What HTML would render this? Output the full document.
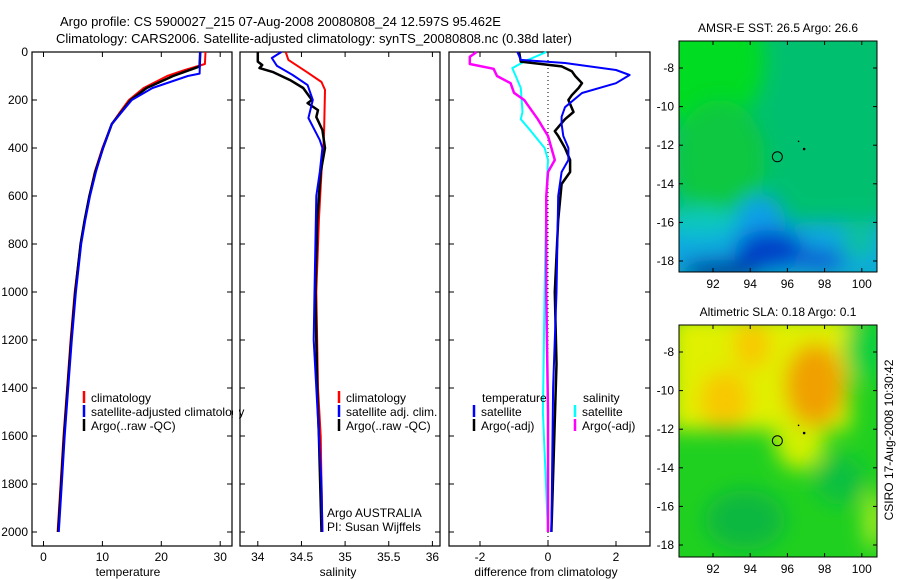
<!DOCTYPE html>
<html><head><meta charset="utf-8">
<style>
body{margin:0;background:#fff;}
svg{display:block;font-family:"Liberation Sans",sans-serif;}
</style></head>
<body>
<svg id="fig" width="900" height="580" viewBox="0 0 900 580">
<defs>
<filter id="blur1" x="-20%" y="-20%" width="140%" height="140%"><feGaussianBlur stdDeviation="10"/></filter>
<clipPath id="cm1"><rect x="679" y="41" width="198" height="231"/></clipPath>
<clipPath id="cm2"><rect x="679" y="325" width="198" height="232"/></clipPath>
</defs>
<text x="60" y="26" font-size="13">Argo profile: CS 5900027_215 07-Aug-2008 20080808_24 12.597S 95.462E</text>
<text x="56" y="43" font-size="13">Climatology: CARS2006. Satellite-adjusted climatology: synTS_20080808.nc (0.38d later)</text>
<g id="panels"></g>
<g id="maps"></g>
<text transform="translate(893,440) rotate(-90)" text-anchor="middle" font-size="12">CSIRO 17-Aug-2008 10:30:42</text>
</svg>
<script>
// ---- data ----
const depthTicks=[0,200,400,600,800,1000,1200,1400,1600,1800,2000];
const tempTicks=[0,10,20,30];
const salTicks=[34,34.5,35,35.5,36];
const salTickLabels=["34","34.5","35","35.5","36"];
const diffTicks=[-2,0,2];
const mapLonTicks=[92,94,96,98,100];
const mapLatTicks=[-8,-10,-12,-14,-16,-18];

const tClimDepth=[0,50,75,100,150,200,250,300,400,500,600,700,800,1000,1200,1400,1600,1800,2000];
const tClim=[27.5,27.4,24,21,17,14.5,13,11.6,10,8.7,7.8,7,6.3,5.3,4.6,4.0,3.4,2.9,2.4];
const tSatDepth=[0,90,100,150,200,300,400,500,600,700,800,1000,1200,1400,1600,1800,2000];
const tSat=[26.6,26.5,24.5,18.5,15,11.6,10.1,8.9,7.9,7.1,6.4,5.5,4.8,4.2,3.6,3.1,2.6];
const tArgoDepth=[0,60,100,150,200,300,400,500,600,700,800,1000,1200,1400,1600,1800,2000];
const tArgo=[26.6,26.5,22,17.5,14.8,11.6,10.1,8.8,7.8,7.0,6.3,5.4,4.7,4.1,3.5,3.0,2.5];

const sClimDepth=[0,33,83,125,158,330,400,500,700,1000,1400,1600,1800,2000];
const sClim=[34.32,34.35,34.56,34.73,34.77,34.76,34.75,34.73,34.7,34.67,34.69,34.72,34.73,34.74];
const sSatDepth=[0,25,58,96,138,200,275,367,400,500,600,1000,1200,1400,1600,1800,2000];
const sSat=[34.27,34.16,34.22,34.4,34.57,34.63,34.58,34.71,34.74,34.71,34.67,34.65,34.64,34.67,34.7,34.73,34.74];
const sArgoDepth=[0,40,54,67,83,117,150,200,213,242,271,325,400,500,700,1000,1400,1600,2000];
const sArgo=[34.0,34.0,34.05,34.02,34.17,34.37,34.52,34.62,34.57,34.69,34.67,34.74,34.77,34.72,34.68,34.66,34.68,34.7,34.73];

const dTSatDepth=[0,33,46,75,96,130,171,230,270,300,350,400,450,500,600,1000,1400,2000];
const dTSat=[-0.9,-0.8,0.5,2.0,2.4,2.0,1.0,0.5,0.4,0.4,0.45,0.6,0.6,0.4,0.3,0.25,0.15,0.1];
const dTArgoDepth=[0,40,60,80,100,130,150,180,200,250,280,330,350,400,450,500,550,700,1000,1300,2000];
const dTArgo=[-0.85,-0.8,0.4,0.7,0.8,1.0,0.9,0.7,0.6,0.75,0.5,0.2,0.3,0.5,0.65,0.65,0.4,0.3,0.2,0.25,0.1];
const dSSatDepth=[0,40,67,100,150,250,280,330,400,450,600,1000,1500,2000];
const dSSat=[-0.05,-0.7,-1.05,-0.95,-0.8,-0.75,-0.8,-0.5,-0.1,0,-0.05,-0.1,-0.15,0];
const dSArgoDepth=[0,20,50,70,100,130,170,200,220,280,350,450,500,600,1000,1500,2000];
const dSArgo=[-2.1,-2.3,-2.3,-1.6,-1.5,-1.1,-1.0,-0.7,-0.6,-0.3,0,0.2,0.0,-0.05,-0.05,0,0];

// ---- scales ----
const NS="http://www.w3.org/2000/svg";
const y=d=>52+d*0.24;
const xT=v=>43.5+v*5.89;
const xS=v=>257.8+(v-34)*87.3;
const xD=v=>548+v*34;
const lonX=v=>713+(v-92)*18.6;
const lat1Y=v=>68+(-8-v)*19.3;
const lat2Y=v=>352+(-8-v)*19.3;

function el(tag,attrs,parent,txt){const e=document.createElementNS(NS,tag);for(const k in attrs)e.setAttribute(k,attrs[k]);if(txt!==undefined)e.textContent=txt;parent.appendChild(e);return e;}
const P=document.getElementById('panels');

function frame(x0,x1,name){
  const r=el('rect',{x:x0,y:52,width:x1-x0,height:494,fill:'none',stroke:'#000','stroke-width':1.2},P);
  
  
  depthTicks.forEach(d=>{
    el('line',{x1:x0,x2:x0+5,y1:y(d),y2:y(d),stroke:'#000'},P);
    el('line',{x1:x1,x2:x1-5,y1:y(d),y2:y(d),stroke:'#000'},P);
  });
}
function xticks(ticks,labels,sx,name){
  ticks.forEach((t,i)=>{
    el('line',{x1:sx(t),x2:sx(t),y1:546,y2:541,stroke:'#000'},P);
    el('line',{x1:sx(t),x2:sx(t),y1:52,y2:57,stroke:'#000'},P);
    const tx=el('text',{x:sx(t),y:561,'font-size':12,'text-anchor':'middle'},P,labels[i]);
    
    
  });
}
function line(xs,ds,sx,color,w,name){
  const pts=xs.map((v,i)=>sx(v).toFixed(1)+','+y(ds[i]).toFixed(1)).join(' ');
  const p=el('polyline',{points:pts,fill:'none',stroke:color,'stroke-width':w,'stroke-linejoin':'round'},P);
  
  
}
function legend(x,yy,color,label,name){
  el('line',{x1:x,x2:x,y1:yy-7,y2:yy+5,stroke:color,'stroke-width':2.5},P);
  const t=el('text',{x:x+7,y:yy+4,'font-size':12},P,label);
  
  
}

// panel 1
frame(32,232,'temperature-panel');
depthTicks.forEach(d=>{const t=el('text',{x:28,y:y(d)+4,'font-size':12,'text-anchor':'end'},P,String(d));
  
  });
xticks(tempTicks,tempTicks.map(String),xT,'temperature');
line(tClim,tClimDepth,xT,'#ff0000',2,'temp-climatology-line');
line(tArgo,tArgoDepth,xT,'#000',2.5,'temp-argo-line');
line(tSat,tSatDepth,xT,'#0000ff',2,'temp-satellite-line');
legend(84,398,'#f00','climatology','legend-climatology');
legend(84,412,'#00f','satellite-adjusted climatology','legend-satellite');
legend(84,426,'#000','Argo(..raw -QC)','legend-argo');
let t=el('text',{x:128,y:576,'font-size':12,'text-anchor':'middle'},P,'temperature');


el('rect',{x:233,y:390,width:6,height:40,fill:'#fff'},P);

// panel 2
frame(240,440,'salinity-panel');
xticks(salTicks,salTickLabels,xS,'salinity');
line(sClim,sClimDepth,xS,'#ff0000',2,'sal-climatology-line');
line(sArgo,sArgoDepth,xS,'#000',2.5,'sal-argo-line');
line(sSat,sSatDepth,xS,'#0000ff',2,'sal-satellite-line');
legend(339,398,'#f00','climatology','legend2-climatology');
legend(339,412,'#00f','satellite adj. clim.','legend2-satellite');
legend(339,426,'#000','Argo(..raw -QC)','legend2-argo');
t=el('text',{x:327,y:517,'font-size':12},P,'Argo AUSTRALIA');


t=el('text',{x:327,y:531,'font-size':12},P,'PI: Susan Wijffels');


t=el('text',{x:338,y:576,'font-size':12,'text-anchor':'middle'},P,'salinity');



// panel 3
frame(449,650,'difference-panel');
xticks(diffTicks,diffTicks.map(String),xD,'difference');
el('line',{x1:xD(0),x2:xD(0),y1:52,y2:546,stroke:'#000','stroke-dasharray':'1,3'},P);
line(dSSat,dSSatDepth,xD,'#00ffff',2,'diff-sal-satellite-line');
line(dSArgo,dSArgoDepth,xD,'#ff00ff',2.5,'diff-sal-argo-line');
line(dTArgo,dTArgoDepth,xD,'#000',2.5,'diff-temp-argo-line');
line(dTSat,dTSatDepth,xD,'#0000ff',2,'diff-temp-satellite-line');
t=el('text',{x:482,y:402,'font-size':12},P,'temperature');


t=el('text',{x:583,y:402,'font-size':12},P,'salinity');


legend(474,412,'#00f','satellite','legend3-temp-satellite');
legend(474,426,'#000','Argo(-adj)','legend3-temp-argo');
legend(575,412,'#0ff','satellite','legend3-sal-satellite');
legend(575,426,'#f0f','Argo(-adj)','legend3-sal-argo');
t=el('text',{x:546,y:576,'font-size':12,'text-anchor':'middle'},P,'difference from climatology');



// ---- maps ----
const M=document.getElementById('maps');
function mapFrame(top,bot,latY,name,title){
  el('rect',{x:679,y:top,width:198,height:bot-top,fill:'none',stroke:'#000'},M);
  mapLonTicks.forEach(v=>{
    el('line',{x1:lonX(v),x2:lonX(v),y1:bot,y2:bot-4,stroke:'#000'},M);
    el('line',{x1:lonX(v),x2:lonX(v),y1:top,y2:top+4,stroke:'#000'},M);
    const tx=el('text',{x:lonX(v),y:bot+16,'font-size':12,'text-anchor':'middle'},M,String(v));
    
    
  });
  mapLatTicks.forEach(v=>{
    el('line',{x1:679,x2:683,y1:latY(v),y2:latY(v),stroke:'#000'},M);
    el('line',{x1:877,x2:873,y1:latY(v),y2:latY(v),stroke:'#000'},M);
    const tx=el('text',{x:674,y:latY(v)+4,'font-size':12,'text-anchor':'end'},M,String(v));
    
    
  });
  const tt=el('text',{x:778,y:top-9,'font-size':12,'text-anchor':'middle'},M,title);
  
  
  const c=el('circle',{cx:lonX(95.46),cy:latY(-12.6),r:5,fill:'none',stroke:'#000'},M);
  
  
  el('circle',{cx:lonX(96.9),cy:latY(-12.2),r:1.3,fill:'#000'},M);
  el('circle',{cx:lonX(96.6),cy:latY(-11.8),r:0.8,fill:'#000'},M);
}
// SST map
let g=el('g',{'clip-path':'url(#cm1)'},M);


el('rect',{x:679,y:41,width:198,height:231,fill:'#00c070'},g);
let gb=el('g',{filter:'url(#blur1)'},g);
el('ellipse',{cx:705,cy:60,rx:60,ry:70,fill:'#00dc20'},gb);
el('ellipse',{cx:720,cy:160,rx:45,ry:60,fill:'#10c840'},gb);
el('rect',{x:660,y:222,width:240,height:60,fill:'#08a8e0'},gb);
el('ellipse',{cx:700,cy:222,rx:40,ry:14,fill:'#10c8c0'},gb);
el('ellipse',{cx:760,cy:220,rx:25,ry:25,fill:'#10a0e8'},gb);
el('ellipse',{cx:770,cy:250,rx:35,ry:20,fill:'#0040c8'},gb);
el('ellipse',{cx:720,cy:270,rx:40,ry:10,fill:'#0010a0'},gb);
el('ellipse',{cx:820,cy:260,rx:25,ry:10,fill:'#1050d0'},gb);
el('ellipse',{cx:860,cy:240,rx:18,ry:20,fill:'#10c0a0'},gb);
mapFrame(41,272,lat1Y,'sst-map','AMSR-E SST: 26.5 Argo: 26.6');
// SLA map
g=el('g',{'clip-path':'url(#cm2)'},M);


el('rect',{x:679,y:325,width:198,height:232,fill:'#20d020'},g);
gb=el('g',{filter:'url(#blur1)'},g);
el('rect',{x:670,y:315,width:180,height:115,fill:'#e0f000'},gb);
el('ellipse',{cx:800,cy:440,rx:25,ry:30,fill:'#d0f000'},gb);
el('ellipse',{cx:725,cy:400,rx:25,ry:30,fill:'#f8c800'},gb);
el('ellipse',{cx:752,cy:345,rx:18,ry:25,fill:'#f8c800'},gb);
el('ellipse',{cx:815,cy:385,rx:30,ry:42,fill:'#f0a000'},gb);
el('ellipse',{cx:865,cy:350,rx:20,ry:32,fill:'#10d040'},gb);
el('ellipse',{cx:745,cy:520,rx:40,ry:30,fill:'#10b840'},gb);
el('ellipse',{cx:840,cy:480,rx:25,ry:25,fill:'#10c040'},gb);
el('ellipse',{cx:873,cy:520,rx:8,ry:30,fill:'#c8f020'},gb);
mapFrame(325,557,lat2Y,'sla-map','Altimetric SLA: 0.18 Argo: 0.1');
</script>
</body></html>
